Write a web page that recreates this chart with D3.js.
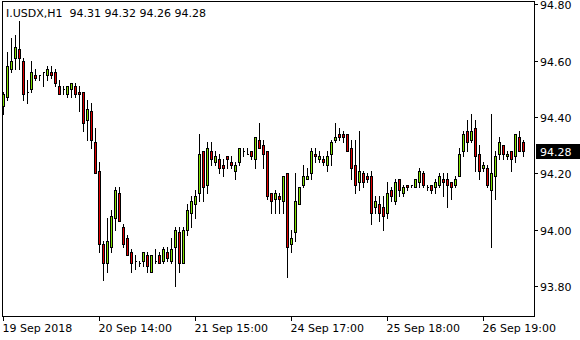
<!DOCTYPE html>
<html>
<head>
<meta charset="utf-8">
<script src="https://cdn.jsdelivr.net/npm/d3@7"></script>
<style>
  html, body { margin: 0; padding: 0; background: #fff; }
  svg { display: block; font-family: "DejaVu Sans", sans-serif; font-size: 11px; }
  .hdr { white-space: pre; }
</style>
</head>
<body>
<div id="chart"></div>
<script>
////////////////////////////////////////////////////////////////////
////////////////////////////  Data  ////////////////////////////////
const symbol = "I.USDX,H1";

// hourly bars, oldest first
const open = [
  94.44, 94.47, 94.57, 94.61, 94.64, 94.60, 94.49, 94.50, 94.55, 94.55,
  94.56, 94.55, 94.56, 94.56, 94.51, 94.50, 94.48, 94.50, 94.51, 94.49,
  94.49, 94.39, 94.42, 94.31, 94.21, 93.95, 93.88, 93.94, 94.04, 94.13,
  94.01, 93.97, 93.92, 93.89, 93.88, 93.89, 93.91, 93.85, 93.89, 93.91,
  93.89, 93.92, 93.89, 93.94, 93.99, 93.88, 94.00, 94.06, 94.09, 94.13,
  94.28, 94.16, 94.28, 94.24, 94.25, 94.23, 94.26, 94.24, 94.21, 94.24,
  94.28, 94.27, 94.28, 94.25, 94.32, 94.30, 94.28, 94.13, 94.11, 94.12,
  94.10, 94.20, 93.95, 93.99, 94.09, 94.16, 94.18, 94.20, 94.27, 94.25,
  94.25, 94.23, 94.27, 94.32, 94.34, 94.34, 94.34, 94.29, 94.23, 94.17,
  94.20, 94.19, 94.19, 94.08, 94.09, 94.08, 94.06, 94.14, 94.10, 94.18,
  94.13, 94.16, 94.16, 94.15, 94.17, 94.20, 94.15, 94.16, 94.15, 94.16,
  94.18, 94.18, 94.17, 94.16, 94.19, 94.28, 94.35, 94.32, 94.36, 94.27,
  94.22, 94.22, 94.14, 94.19, 94.27, 94.30, 94.26, 94.28, 94.26, 94.33,
  94.31,
];
const high = [
  94.49, 94.63, 94.68, 94.69, 94.74, 94.61, 94.53, 94.60, 94.57, 94.55,
  94.56, 94.58, 94.58, 94.57, 94.53, 94.51, 94.51, 94.52, 94.52, 94.51,
  94.49, 94.46, 94.45, 94.36, 94.24, 93.96, 94.04, 94.07, 94.15, 94.15,
  94.02, 93.98, 93.93, 93.91, 93.89, 93.92, 93.92, 93.91, 93.93, 93.92,
  93.94, 93.94, 93.97, 94.01, 94.01, 94.01, 94.09, 94.12, 94.14, 94.34,
  94.28, 94.31, 94.31, 94.28, 94.27, 94.25, 94.26, 94.26, 94.24, 94.29,
  94.29, 94.29, 94.28, 94.33, 94.38, 94.32, 94.28, 94.13, 94.14, 94.13,
  94.19, 94.20, 94.00, 94.20, 94.15, 94.23, 94.22, 94.29, 94.29, 94.28,
  94.26, 94.28, 94.32, 94.38, 94.36, 94.35, 94.34, 94.32, 94.32, 94.35,
  94.21, 94.20, 94.21, 94.12, 94.12, 94.12, 94.17, 94.15, 94.18, 94.18,
  94.16, 94.16, 94.16, 94.18, 94.22, 94.21, 94.16, 94.16, 94.18, 94.20,
  94.20, 94.20, 94.17, 94.19, 94.29, 94.35, 94.39, 94.41, 94.39, 94.30,
  94.24, 94.23, 94.41, 94.28, 94.33, 94.30, 94.28, 94.28, 94.34, 94.35,
  94.32,
];
const low = [
  94.41, 94.46, 94.56, 94.57, 94.57, 94.46, 94.45, 94.49, 94.53, 94.53,
  94.51, 94.53, 94.54, 94.51, 94.48, 94.48, 94.47, 94.47, 94.47, 94.42,
  94.35, 94.32, 94.29, 94.20, 93.92, 93.82, 93.85, 93.92, 94.00, 94.03,
  93.94, 93.91, 93.85, 93.86, 93.87, 93.87, 93.85, 93.85, 93.88, 93.88,
  93.88, 93.89, 93.88, 93.80, 93.85, 93.88, 93.98, 94.01, 94.04, 94.10,
  94.10, 94.13, 94.23, 94.23, 94.20, 94.19, 94.22, 94.22, 94.18, 94.23,
  94.26, 94.27, 94.25, 94.22, 94.29, 94.22, 94.11, 94.06, 94.06, 94.06,
  94.06, 93.83, 93.92, 93.96, 94.09, 94.15, 94.18, 94.18, 94.24, 94.24,
  94.23, 94.21, 94.23, 94.31, 94.32, 94.31, 94.28, 94.18, 94.13, 94.14,
  94.15, 94.17, 94.02, 94.06, 94.03, 94.00, 94.04, 94.10, 94.09, 94.12,
  94.12, 94.14, 94.15, 94.15, 94.15, 94.15, 94.14, 94.13, 94.13, 94.15,
  94.12, 94.08, 94.11, 94.15, 94.19, 94.26, 94.28, 94.31, 94.21, 94.18,
  94.21, 94.15, 93.94, 94.11, 94.25, 94.25, 94.25, 94.21, 94.24, 94.30,
  94.26,
];
const close = [
  94.48, 94.58, 94.60, 94.65, 94.61, 94.48, 94.49, 94.56, 94.54, 94.55,
  94.56, 94.57, 94.55, 94.52, 94.48, 94.50, 94.51, 94.52, 94.48, 94.48,
  94.38, 94.43, 94.32, 94.20, 93.95, 93.88, 93.96, 94.05, 94.14, 94.03,
  93.95, 93.91, 93.88, 93.89, 93.88, 93.92, 93.87, 93.91, 93.89, 93.88,
  93.93, 93.90, 93.93, 94.00, 93.88, 94.00, 94.07, 94.10, 94.12, 94.27,
  94.15, 94.29, 94.25, 94.26, 94.22, 94.22, 94.25, 94.23, 94.23, 94.29,
  94.28, 94.27, 94.26, 94.33, 94.29, 94.27, 94.12, 94.10, 94.13, 94.11,
  94.19, 93.94, 93.97, 94.10, 94.15, 94.19, 94.19, 94.28, 94.26, 94.26,
  94.24, 94.26, 94.31, 94.33, 94.33, 94.33, 94.28, 94.22, 94.16, 94.21,
  94.17, 94.18, 94.06, 94.10, 94.06, 94.05, 94.13, 94.12, 94.17, 94.14,
  94.15, 94.15, 94.16, 94.18, 94.21, 94.16, 94.15, 94.14, 94.17, 94.19,
  94.17, 94.16, 94.15, 94.18, 94.27, 94.34, 94.31, 94.35, 94.26, 94.21,
  94.23, 94.16, 94.20, 94.26, 94.31, 94.27, 94.27, 94.25, 94.34, 94.28,
  94.28,
];

// time axis: one label every 24 bars
const tickBars = [0, 24, 48, 72, 96, 120];
const tickLabels = [
  "19 Sep 2018",
  "20 Sep 14:00",
  "21 Sep 15:00",
  "24 Sep 17:00",
  "25 Sep 18:00",
  "26 Sep 19:00",
];
const priceTicks = [93.8, 94.0, 94.2, 94.4, 94.6, 94.8];

////////////////////////////////////////////////////////////////////
////////////////////////////  Init  ////////////////////////////////
const width = 580;
const height = 340;
const frame = { left: 2, top: 1, right: 534, bottom: 316 };
const upColor = "#7fe000";
const downColor = "#e00000";
const last = close.length - 1;

const svg = d3
  .select("#chart")
  .append("svg")
  .attr("width", width)
  .attr("height", height);

// scales
const x = d3
  .scaleBand()
  .domain(d3.range(close.length))
  .range([1.5, 1.5 + 4 * close.length]);
const y = d3.scaleLinear().domain([93.8, 94.8]).range([285.92, 4.42]);

const cx = (i) => x(i) + x.bandwidth() / 2;
const py = (v) => Math.round(y(v)) + 0.5;

svg
  .append("clipPath")
  .attr("id", "plot-clip")
  .append("rect")
  .attr("x", frame.left + 1)
  .attr("y", frame.top + 1)
  .attr("width", frame.right - frame.left - 1)
  .attr("height", frame.bottom - frame.top - 1);

////////////////////////////////////////////////////////////////////
////////////////////////////  Candles  /////////////////////////////
const candles = svg
  .append("g")
  .attr("clip-path", "url(#plot-clip)")
  .attr("shape-rendering", "crispEdges");

candles
  .selectAll(".wick")
  .data(close)
  .enter()
  .append("line")
  .attr("x1", (d, i) => cx(i))
  .attr("x2", (d, i) => cx(i))
  .attr("y1", (d, i) => py(high[i]) - 0.5)
  .attr("y2", (d, i) => py(low[i]) + 0.5)
  .attr("stroke", "#000")
  .attr("stroke-width", 1);

candles
  .selectAll(".body")
  .data(close)
  .enter()
  .append("path")
  .attr("d", (d, i) => {
    const top = py(Math.max(open[i], d));
    const bot = py(Math.min(open[i], d));
    const c = cx(i);
    return `M${c - 1},${top}H${c + 1}V${bot}H${c - 1}Z`;
  })
  .attr("fill", (d, i) => (d > open[i] ? upColor : downColor))
  .attr("stroke", "#000")
  .attr("stroke-width", 1);

////////////////////////////////////////////////////////////////////
////////////////////////////  Frame & axes  ////////////////////////
svg
  .append("rect")
  .attr("x", frame.left + 0.5)
  .attr("y", frame.top + 0.5)
  .attr("width", frame.right - frame.left)
  .attr("height", frame.bottom - frame.top)
  .attr("fill", "none")
  .attr("stroke", "#000")
  .attr("shape-rendering", "crispEdges");

// price axis
const yAxis = svg.append("g").attr("shape-rendering", "crispEdges");
yAxis
  .selectAll("line")
  .data(priceTicks)
  .enter()
  .append("line")
  .attr("x1", frame.right + 0.5)
  .attr("x2", frame.right + 4)
  .attr("y1", (d) => py(d))
  .attr("y2", (d) => py(d))
  .attr("stroke", "#000");
yAxis
  .selectAll("text")
  .data(priceTicks)
  .enter()
  .append("text")
  .attr("x", 540)
  .attr("y", (d) => py(d) + 4)
  .attr("fill", "#000")
  .text((d) => d.toFixed(2));

// time axis
const xAxis = svg.append("g");
xAxis
  .selectAll("line")
  .data(tickBars)
  .enter()
  .append("line")
  .attr("x1", (d) => cx(d))
  .attr("x2", (d) => cx(d))
  .attr("y1", frame.bottom + 1)
  .attr("y2", frame.bottom + 5)
  .attr("stroke", "#000")
  .attr("shape-rendering", "crispEdges");
xAxis
  .selectAll("text")
  .data(tickBars)
  .enter()
  .append("text")
  .attr("x", (d) => cx(d) - 1)
  .attr("y", 332)
  .attr("fill", "#000")
  .text((d, i) => tickLabels[i]);

// current price marker
const lastY = py(close[last]);
svg
  .append("rect")
  .attr("x", 536)
  .attr("y", lastY - 7.5)
  .attr("width", 44)
  .attr("height", 15)
  .attr("fill", "#000");
svg
  .append("text")
  .attr("x", 540)
  .attr("y", lastY + 4)
  .attr("fill", "#fff")
  .text(close[last].toFixed(2));

// header
svg
  .append("text")
  .attr("class", "hdr")
  .attr("x", 6)
  .attr("y", 17)
  .attr("fill", "#000")
  .text(
    `${symbol}  ${[open[last], high[last], low[last], close[last]]
      .map((d) => d.toFixed(2))
      .join(" ")}`
  );
</script>
</body>
</html>
